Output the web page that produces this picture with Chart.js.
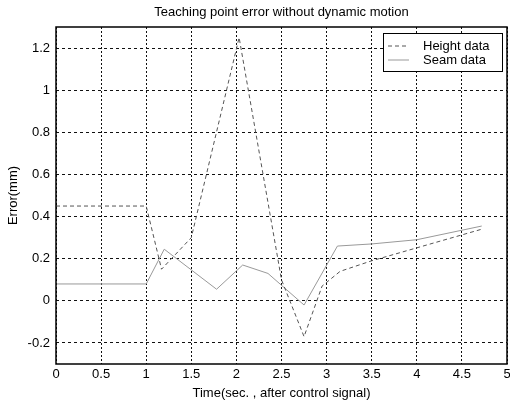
<!DOCTYPE html>
<html>
<head>
<meta charset="utf-8">
<script src="https://cdn.jsdelivr.net/npm/chart.js@4"></script>
<style>
    html, body { margin: 0; padding: 0; background: #fff; }
    #wrap { width: 510px; height: 403px; }
</style>
</head>
<body>
<div id="wrap"><canvas id="error-chart"></canvas></div>
<script>
// values
const heightTime = [0, 1, 1.17, 1.5, 2.03, 2.5, 2.75, 2.95, 3.15, 3.5, 4.72];
const heightError = [0.45, 0.45, 0.15, 0.3, 1.25, 0.1, -0.17, 0.07, 0.14, 0.19, 0.34];
const seamTime = [0, 1, 1.2, 1.78, 2.07, 2.35, 2.75, 3.12, 3.5, 4.0, 4.72];
const seamError = [0.08, 0.08, 0.245, 0.055, 0.17, 0.13, -0.02, 0.26, 0.27, 0.29, 0.355];
const xTicks = [0, 0.5, 1, 1.5, 2, 2.5, 3, 3.5, 4, 4.5, 5];
const yTicks = [-0.2, 0, 0.2, 0.4, 0.6, 0.8, 1, 1.2];
const chartTitle = 'Teaching point error without dynamic motion';

const font = "'Liberation Sans', Arial, sans-serif";

const toPoints = (xs, ys) => xs.map((x, i) => ({ x: x, y: ys[i] }));
const fmt = v => String(Math.round(v * 10) / 10);

// box round the plot, like matlab's axes frame
const framePlugin = {
    id: 'frame',
    afterDatasetsDraw(chart) {
        const { ctx, chartArea: a } = chart;
        ctx.save();
        ctx.strokeStyle = '#000';
        ctx.lineWidth = 1.5;
        ctx.strokeRect(a.left, a.top, a.right - a.left, a.bottom - a.top);
        ctx.restore();
    }
};

// title centred over the plot area, not the whole canvas
const plotTitle = {
    id: 'plotTitle',
    afterDraw(chart) {
        const { ctx, chartArea: a } = chart;
        ctx.save();
        ctx.font = '13px ' + font;
        ctx.fillStyle = '#000';
        ctx.textAlign = 'center';
        ctx.textBaseline = 'middle';
        ctx.fillText(chartTitle, (a.left + a.right) / 2, 12);
        ctx.restore();
    }
};

// legend drawn inside the plot with a box
const boxLegend = {
    id: 'boxLegend',
    afterDraw(chart) {
        const { ctx, chartArea: a } = chart;
        const w = 119, h = 38;
        const left = a.right - 5 - w;
        const top = a.top + 6;
        ctx.save();
        ctx.fillStyle = '#fff';
        ctx.fillRect(left, top, w, h);
        ctx.strokeStyle = '#000';
        ctx.lineWidth = 1;
        ctx.strokeRect(left + 0.5, top + 0.5, w, h);
        ctx.font = '13px ' + font;
        ctx.textBaseline = 'middle';
        chart.data.datasets.forEach((ds, i) => {
            const y = top + 13 + i * 14;
            ctx.strokeStyle = ds.borderColor;
            ctx.lineWidth = ds.borderWidth;
            ctx.setLineDash(ds.borderDash || []);
            ctx.beginPath();
            ctx.moveTo(left + 5, y);
            ctx.lineTo(left + 26, y);
            ctx.stroke();
            ctx.setLineDash([]);
            ctx.fillStyle = '#000';
            ctx.fillText(ds.label, left + 40, y);
        });
        ctx.restore();
    }
};

new Chart(document.getElementById('error-chart'), {
    type: 'line',
    data: {
        datasets: [{
            label: 'Height data',
            data: toPoints(heightTime, heightError),
            borderColor: '#555',
            borderWidth: 1,
            borderDash: [4, 3],
            pointRadius: 0,
            fill: false
        }, {
            label: 'Seam data',
            data: toPoints(seamTime, seamError),
            borderColor: '#999',
            borderWidth: 1,
            pointRadius: 0,
            fill: false
        }]
    },
    options: {
        responsive: true,
        maintainAspectRatio: false,
        animation: false,
        layout: { padding: { left: 0, right: 3, top: 27, bottom: 0 } },
        scales: {
            x: {
                type: 'linear',
                min: 0,
                max: 5,
                afterBuildTicks: s => { s.ticks = xTicks.map(v => ({ value: v })); },
                afterFit: s => {
                    s.height = 39;
                    s.paddingLeft = 0;
                    s.paddingRight = 0;
                },
                grid: { color: '#111', lineWidth: 1, drawTicks: false },
                border: { display: false, dash: [2, 2] },
                ticks: {
                    padding: 3,
                    color: '#000',
                    font: { family: font, size: 13 },
                    maxRotation: 0,
                    callback: v => fmt(v)
                },
                title: {
                    display: true,
                    text: 'Time(sec. , after control signal)',
                    color: '#000',
                    font: { family: font, size: 13 },
                    padding: { top: 0, bottom: 2 }
                }
            },
            y: {
                min: -0.3,
                max: 1.3,
                afterBuildTicks: s => { s.ticks = yTicks.map(v => ({ value: v })); },
                afterFit: s => { s.width = 56; },
                grid: { color: '#111', lineWidth: 1, drawTicks: false },
                border: { display: false, dash: [3, 3] },
                ticks: {
                    padding: 6,
                    color: '#000',
                    font: { family: font, size: 13 },
                    callback: v => fmt(v)
                },
                title: {
                    display: true,
                    text: 'Error(mm)',
                    color: '#000',
                    font: { family: font, size: 13 },
                    padding: { top: 6, bottom: 0 }
                }
            }
        },
        plugins: {
            legend: { display: false },
            tooltip: { enabled: false },
            title: { display: false }
        }
    },
    plugins: [framePlugin, plotTitle, boxLegend]
});
</script>
</body>
</html>
